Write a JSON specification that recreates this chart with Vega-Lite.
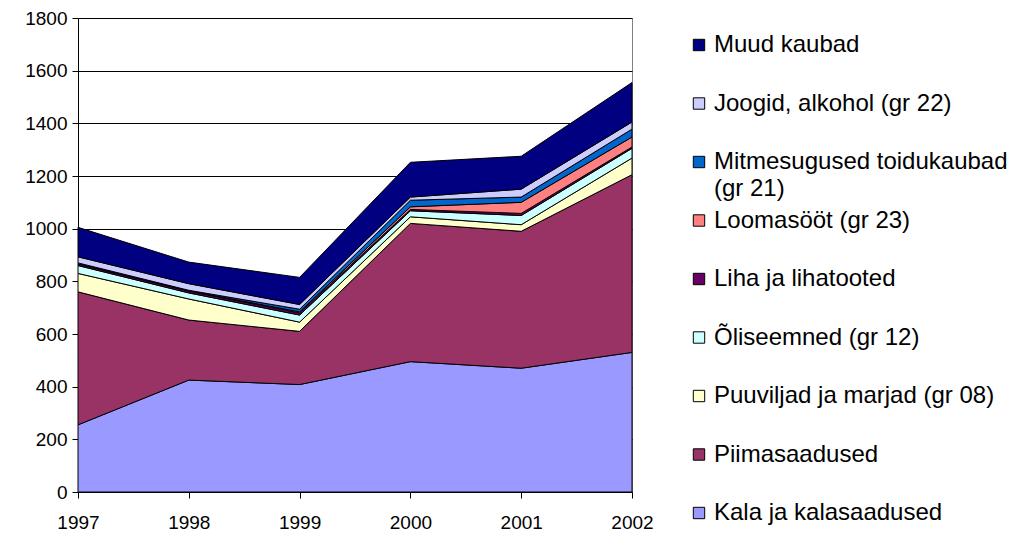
{
  "$schema": "https://vega.github.io/schema/vega-lite/v6.json",
  "width": 554,
  "height": 474,
  "autosize": {"type": "none"},
  "padding": {"left": 78, "top": 18, "right": 400, "bottom": 43},
  "background": "white",
  "config": {
    "font": "Liberation Sans",
    "view": {"stroke": "#808080", "strokeWidth": 1}
  },
  "data": {
    "values": [
      {"year": "1997", "cat": "Kala ja kalasaadused", "ord": 1, "value": 255},
      {"year": "1997", "cat": "Piimasaadused", "ord": 2, "value": 505},
      {"year": "1997", "cat": "Puuviljad ja marjad (gr 08)", "ord": 3, "value": 70},
      {"year": "1997", "cat": "Õliseemned (gr 12)", "ord": 4, "value": 30},
      {"year": "1997", "cat": "Liha ja lihatooted", "ord": 5, "value": 6},
      {"year": "1997", "cat": "Loomasööt (gr 23)", "ord": 6, "value": 1},
      {"year": "1997", "cat": "Mitmesugused toidukaubad (gr 21)", "ord": 7, "value": 3},
      {"year": "1997", "cat": "Joogid, alkohol (gr 22)", "ord": 8, "value": 23},
      {"year": "1997", "cat": "Muud kaubad", "ord": 9, "value": 112},

      {"year": "1998", "cat": "Kala ja kalasaadused", "ord": 1, "value": 425},
      {"year": "1998", "cat": "Piimasaadused", "ord": 2, "value": 228},
      {"year": "1998", "cat": "Puuviljad ja marjad (gr 08)", "ord": 3, "value": 80},
      {"year": "1998", "cat": "Õliseemned (gr 12)", "ord": 4, "value": 23},
      {"year": "1998", "cat": "Liha ja lihatooted", "ord": 5, "value": 7},
      {"year": "1998", "cat": "Loomasööt (gr 23)", "ord": 6, "value": 1},
      {"year": "1998", "cat": "Mitmesugused toidukaubad (gr 21)", "ord": 7, "value": 2},
      {"year": "1998", "cat": "Joogid, alkohol (gr 22)", "ord": 8, "value": 25},
      {"year": "1998", "cat": "Muud kaubad", "ord": 9, "value": 82},

      {"year": "1999", "cat": "Kala ja kalasaadused", "ord": 1, "value": 408},
      {"year": "1999", "cat": "Piimasaadused", "ord": 2, "value": 202},
      {"year": "1999", "cat": "Puuviljad ja marjad (gr 08)", "ord": 3, "value": 35},
      {"year": "1999", "cat": "Õliseemned (gr 12)", "ord": 4, "value": 27},
      {"year": "1999", "cat": "Liha ja lihatooted", "ord": 5, "value": 8},
      {"year": "1999", "cat": "Loomasööt (gr 23)", "ord": 6, "value": 4},
      {"year": "1999", "cat": "Mitmesugused toidukaubad (gr 21)", "ord": 7, "value": 10},
      {"year": "1999", "cat": "Joogid, alkohol (gr 22)", "ord": 8, "value": 18},
      {"year": "1999", "cat": "Muud kaubad", "ord": 9, "value": 103},

      {"year": "2000", "cat": "Kala ja kalasaadused", "ord": 1, "value": 495},
      {"year": "2000", "cat": "Piimasaadused", "ord": 2, "value": 525},
      {"year": "2000", "cat": "Puuviljad ja marjad (gr 08)", "ord": 3, "value": 25},
      {"year": "2000", "cat": "Õliseemned (gr 12)", "ord": 4, "value": 23},
      {"year": "2000", "cat": "Liha ja lihatooted", "ord": 5, "value": 5},
      {"year": "2000", "cat": "Loomasööt (gr 23)", "ord": 6, "value": 10},
      {"year": "2000", "cat": "Mitmesugused toidukaubad (gr 21)", "ord": 7, "value": 25},
      {"year": "2000", "cat": "Joogid, alkohol (gr 22)", "ord": 8, "value": 12},
      {"year": "2000", "cat": "Muud kaubad", "ord": 9, "value": 132},

      {"year": "2001", "cat": "Kala ja kalasaadused", "ord": 1, "value": 470},
      {"year": "2001", "cat": "Piimasaadused", "ord": 2, "value": 520},
      {"year": "2001", "cat": "Puuviljad ja marjad (gr 08)", "ord": 3, "value": 25},
      {"year": "2001", "cat": "Õliseemned (gr 12)", "ord": 4, "value": 35},
      {"year": "2001", "cat": "Liha ja lihatooted", "ord": 5, "value": 8},
      {"year": "2001", "cat": "Loomasööt (gr 23)", "ord": 6, "value": 42},
      {"year": "2001", "cat": "Mitmesugused toidukaubad (gr 21)", "ord": 7, "value": 20},
      {"year": "2001", "cat": "Joogid, alkohol (gr 22)", "ord": 8, "value": 30},
      {"year": "2001", "cat": "Muud kaubad", "ord": 9, "value": 125},

      {"year": "2002", "cat": "Kala ja kalasaadused", "ord": 1, "value": 530},
      {"year": "2002", "cat": "Piimasaadused", "ord": 2, "value": 675},
      {"year": "2002", "cat": "Puuviljad ja marjad (gr 08)", "ord": 3, "value": 63},
      {"year": "2002", "cat": "Õliseemned (gr 12)", "ord": 4, "value": 37},
      {"year": "2002", "cat": "Liha ja lihatooted", "ord": 5, "value": 5},
      {"year": "2002", "cat": "Loomasööt (gr 23)", "ord": 6, "value": 38},
      {"year": "2002", "cat": "Mitmesugused toidukaubad (gr 21)", "ord": 7, "value": 30},
      {"year": "2002", "cat": "Joogid, alkohol (gr 22)", "ord": 8, "value": 27},
      {"year": "2002", "cat": "Muud kaubad", "ord": 9, "value": 150}
    ]
  },
  "mark": {"type": "area", "stroke": "black", "strokeWidth": 1, "opacity": 1},
  "encoding": {
    "x": {
      "field": "year",
      "type": "ordinal",
      "scale": {"type": "point", "padding": 0},
      "axis": {
        "title": null,
        "labelAngle": 0,
        "labelFontSize": 19,
        "labelColor": "black",
        "labelPadding": 15,
        "tickSize": 6,
        "tickColor": "black",
        "domainColor": "black",
        "grid": false
      }
    },
    "y": {
      "field": "value",
      "type": "quantitative",
      "stack": "zero",
      "scale": {"domain": [0, 1800], "nice": false},
      "axis": {
        "title": null,
        "format": "d",
        "values": [0, 200, 400, 600, 800, 1000, 1200, 1400, 1600, 1800],
        "labelFontSize": 19,
        "labelColor": "black",
        "labelPadding": 5,
        "tickSize": 6,
        "tickColor": "black",
        "domainColor": "black",
        "grid": true,
        "gridColor": "black",
        "gridOpacity": 1,
        "gridWidth": 1
      }
    },
    "order": {"field": "ord", "type": "quantitative", "sort": "ascending"},
    "color": {
      "field": "cat",
      "type": "nominal",
      "scale": {
        "domain": ["Muud kaubad", "Joogid, alkohol (gr 22)", "Mitmesugused toidukaubad (gr 21)", "Loomasööt (gr 23)", "Liha ja lihatooted", "Õliseemned (gr 12)", "Puuviljad ja marjad (gr 08)", "Piimasaadused", "Kala ja kalasaadused"],
        "range": ["#000080", "#CCCCFF", "#0066CC", "#FF8080", "#660066", "#CCFFFF", "#FFFFCC", "#993366", "#9999FF"]
      },
      "legend": {
        "title": null,
        "orient": "none",
        "legendX": 609,
        "legendY": 15,
        "padding": 0,
        "symbolType": "square",
        "symbolSize": 130,
        "symbolStrokeColor": "black",
        "symbolStrokeWidth": 1,
        "symbolOpacity": 1,
        "labelFontSize": 24,
        "labelColor": "black",
        "labelOffset": 3,
        "labelLimit": 400,
        "rowPadding": 7.5,
        "labelExpr": "datum.label == 'Mitmesugused toidukaubad (gr 21)' ? ['Mitmesugused toidukaubad', '(gr 21)'] : [datum.label, '']",
        "encode": {
          "labels": {"update": {"lineHeight": {"value": 27}}}
        }
      }
    }
  }
}
